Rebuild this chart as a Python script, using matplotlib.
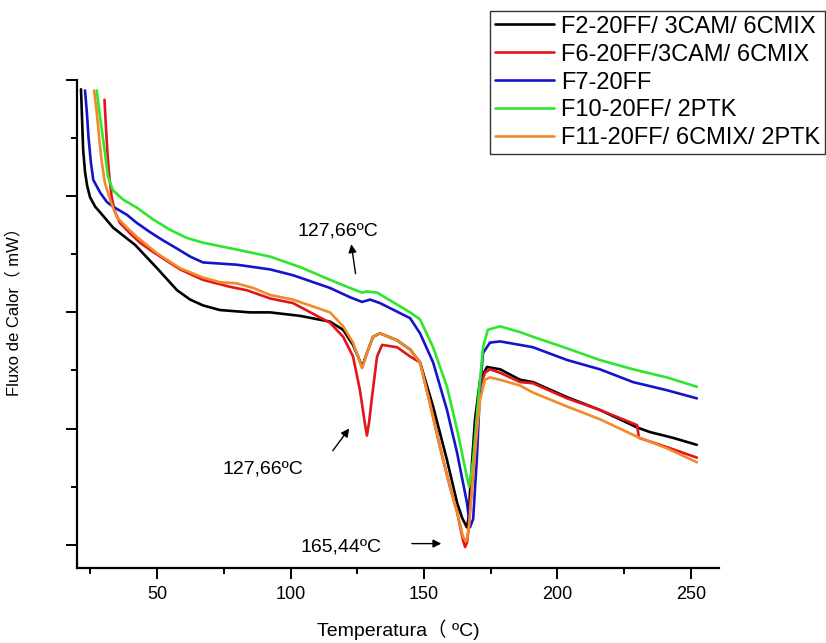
import matplotlib
matplotlib.use('Agg')
import matplotlib.pyplot as plt
from matplotlib.ticker import MultipleLocator

# DSC curves (temperature in ºC, heat flow in arbitrary units)
t_f2 = [21.5, 21.9, 22.3, 23.0, 23.8, 24.9, 26.8, 28.7, 33.5, 41.8, 50.0, 57.5, 62.4, 67.2,
        73.6, 84.8, 92.3, 103.6, 114.8, 119.7, 123.4, 125.3, 126.8, 128.6, 130.9, 133.5,
        139.9, 144.8, 148.5, 153.4, 158.6, 162.4, 164.3, 165.4, 166.1, 166.8, 167.2, 169.1,
        171.0, 173.6, 178.5, 186.0, 190.8, 203.6, 215.9, 229.8, 234.6, 243.3, 252.2]
q_f2 = [3.92, 3.66, 3.40, 3.21, 3.09, 2.99, 2.91, 2.86, 2.73, 2.58, 2.38, 2.19, 2.11, 2.06,
        2.02, 2.00, 2.00, 1.97, 1.92, 1.85, 1.72, 1.62, 1.53, 1.65, 1.79, 1.82,
        1.76, 1.68, 1.57, 1.19, 0.73, 0.36, 0.23, 0.18, 0.15, 0.25, 0.45, 1.08,
        1.42, 1.53, 1.51, 1.42, 1.40, 1.27, 1.16, 1.01, 0.97, 0.92, 0.86]

t_f6 = [30.3, 30.9, 31.5, 32.1, 33.0, 34.3, 36.1, 39.9, 43.6, 48.5, 58.6, 67.2, 77.3, 83.7,
        92.3, 100.9, 114.8, 119.7, 123.4, 126.0, 127.8, 128.6, 129.4, 130.5, 132.4, 134.3,
        139.9, 144.8, 148.5, 152.2, 156.0, 159.7, 162.4, 164.6, 165.4, 166.1, 166.5, 168.4,
        169.9, 171.0, 172.8, 174.7, 178.5, 186.0, 190.8, 203.6, 215.9, 229.8, 230.5, 241.0,
        252.2]
q_f6 = [3.83, 3.57, 3.34, 3.17, 2.99, 2.86, 2.77, 2.68, 2.60, 2.52, 2.37, 2.28, 2.22, 2.19,
        2.12, 2.08, 1.91, 1.79, 1.62, 1.33, 1.05, 0.94, 1.05, 1.27, 1.62, 1.72,
        1.70, 1.62, 1.57, 1.22, 0.84, 0.50, 0.28, 0.04, -0.02, 0.02, 0.10, 0.65,
        1.08, 1.36, 1.48, 1.51, 1.48, 1.40, 1.39, 1.26, 1.16, 1.03, 0.92, 0.84,
        0.75]

t_f7 = [23.0, 23.7, 24.3, 25.2, 26.1, 28.7, 31.2, 33.5, 38.7, 42.4, 47.4, 52.2, 57.4, 62.4,
        67.2, 80.0, 92.3, 100.9, 114.8, 122.3, 126.8, 129.8, 133.5, 144.8, 148.5, 153.4,
        158.6, 162.4, 166.1, 167.2, 168.4, 169.9, 171.0, 172.1, 174.7, 178.5, 186.0, 190.8,
        203.6, 215.9, 228.3, 241.0, 252.2]
q_f7 = [3.91, 3.72, 3.51, 3.29, 3.14, 3.03, 2.95, 2.91, 2.84, 2.77, 2.69, 2.62, 2.55, 2.48,
        2.43, 2.41, 2.37, 2.32, 2.21, 2.13, 2.09, 2.11, 2.08, 1.95, 1.82, 1.57,
        1.16, 0.79, 0.36, 0.15, 0.22, 0.79, 1.36, 1.65, 1.74, 1.75, 1.72, 1.70,
        1.59, 1.51, 1.40, 1.33, 1.26]

t_f10 = [27.4, 28.4, 29.3, 30.5, 31.6, 33.5, 37.3, 42.5, 48.5, 54.9, 61.2, 67.2, 80.0, 92.3,
         103.6, 114.8, 122.3, 126.8, 128.6, 132.4, 144.8, 148.5, 153.4, 158.6, 162.4, 166.1,
         166.9, 168.4, 170.2, 172.1, 173.9, 178.5, 186.0, 190.8, 203.6, 215.9, 228.3, 241.0,
         252.2]
q_f10 = [3.91, 3.72, 3.57, 3.37, 3.17, 3.05, 2.97, 2.90, 2.80, 2.71, 2.64, 2.60, 2.54, 2.48,
         2.39, 2.28, 2.21, 2.17, 2.18, 2.17, 2.00, 1.94, 1.70, 1.36, 0.99, 0.58,
         0.50, 0.73, 1.22, 1.70, 1.85, 1.88, 1.83, 1.79, 1.69, 1.59, 1.51, 1.44,
         1.36]

t_f11 = [26.4, 27.4, 28.4, 29.3, 30.5, 32.4, 34.9, 38.7, 42.4, 49.9, 58.6, 67.2, 73.6, 79.8,
         86.0, 92.3, 100.9, 114.8, 119.7, 123.4, 125.3, 126.8, 128.6, 130.9, 133.5, 139.9,
         144.8, 148.5, 152.2, 156.0, 159.7, 162.4, 164.6, 165.7, 166.3, 166.9, 168.4, 169.9,
         171.0, 172.8, 174.7, 178.5, 186.0, 190.8, 203.6, 215.9, 229.8, 241.0, 252.2]
q_f11 = [3.91, 3.72, 3.48, 3.29, 3.11, 2.97, 2.82, 2.73, 2.65, 2.51, 2.38, 2.30, 2.26, 2.25,
         2.21, 2.15, 2.11, 2.00, 1.88, 1.74, 1.62, 1.52, 1.65, 1.79, 1.82, 1.76,
         1.68, 1.57, 1.22, 0.84, 0.50, 0.28, 0.07, 0.03, 0.07, 0.17, 0.60, 0.99,
         1.25, 1.42, 1.44, 1.42, 1.37, 1.31, 1.19, 1.08, 0.93, 0.83, 0.71]

labels = ['F2-20FF/ 3CAM/ 6CMIX', 'F6-20FF/3CAM/ 6CMIX', 'F7-20FF',
          'F10-20FF/ 2PTK', 'F11-20FF/ 6CMIX/ 2PTK']
cores = ['#000000', '#e3141b', '#1414cc', '#2ee62e', '#f28a2a']

fonte = ['Liberation Sans', 'Noto Sans CJK SC', 'DejaVu Sans']
plt.rcParams['font.family'] = fonte

fig = plt.figure(figsize=(8.26, 6.43), dpi=100)
ax = fig.add_axes([77/826, 1-568/643, (719-77)/826, (568-80)/643])

series = [(t_f2, q_f2), (t_f6, q_f6), (t_f7, q_f7), (t_f10, q_f10), (t_f11, q_f11)]
for (t, q), lab, c in zip(series, labels, cores):
    ax.plot(t, q, color=c, lw=1.9, label=lab, solid_joinstyle='round',
            solid_capstyle='round')

ax.set_xlim(20, 260.5)
ax.set_ylim(-0.2, 4.0)
ax.spines['top'].set_visible(False)
ax.spines['right'].set_visible(False)
for s in ['left', 'bottom']:
    ax.spines[s].set_linewidth(1.6)

ax.set_xticks([50, 100, 150, 200, 250])
ax.xaxis.set_minor_locator(MultipleLocator(25))
ax.set_yticks([0, 1, 2, 3, 4])
ax.set_yticklabels([])
ax.yaxis.set_minor_locator(MultipleLocator(0.5))
ax.tick_params(which='major', direction='out', length=8, width=1.4, labelsize=13, pad=5)
ax.tick_params(which='minor', direction='out', length=4.5, width=1.4)

ax.set_xlabel('Temperatura（ ºC)', fontsize=14, labelpad=12)
ax.set_ylabel('Fluxo de Calor（ mW）', fontsize=12)
ax.yaxis.set_label_coords(-0.086, 0.533)

# anotacoes dos picos
ax.text(117.8, 2.70, '127,66ºC', fontsize=14, ha='center', va='center')
ax.annotate('', xy=(122.6, 2.61), xytext=(124.5, 2.31),
            arrowprops=dict(arrowstyle='-|>', color='k', lw=1, mutation_scale=12))
ax.text(89.7, 0.65, '127,66ºC', fontsize=14, ha='center', va='center')
ax.annotate('', xy=(122.6, 1.02), xytext=(115.2, 0.79),
            arrowprops=dict(arrowstyle='-|>', color='k', lw=1, mutation_scale=12))
ax.text(118.9, -0.02, '165,44ºC', fontsize=14, ha='center', va='center')
ax.annotate('', xy=(157.5, 0.01), xytext=(144.4, 0.01),
            arrowprops=dict(arrowstyle='-|>', color='k', lw=1, mutation_scale=12))

leg = fig.legend(loc='upper right', bbox_to_anchor=(825/826, 1-11/643),
                 bbox_transform=fig.transFigure, fontsize=17, frameon=True,
                 fancybox=False, framealpha=1, edgecolor='#333333',
                 handlelength=2.5, handletextpad=0.3, labelspacing=0.25,
                 borderpad=0.2, borderaxespad=0)
leg.get_frame().set_linewidth(1.0)

plt.savefig('out.png', dpi=100)
